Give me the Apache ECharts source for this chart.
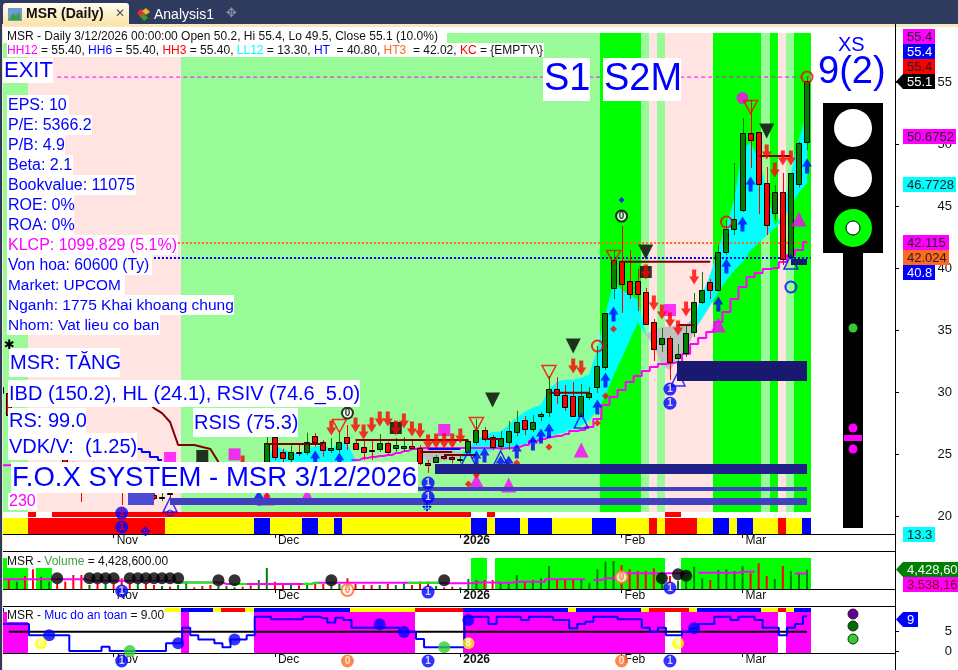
<!DOCTYPE html>
<html><head><meta charset="utf-8">
<style>html,body{margin:0;padding:0;background:#fff;overflow:hidden}#c{width:958px;height:670px}</style>
<script src="https://cdn.jsdelivr.net/npm/echarts@6/dist/echarts.min.js"></script>
</head><body><div id="c"></div>
<script>
// ---- data, bar index 0..100 ----
const candles=[ // open, close, low, high
[30.4,29.9,29.6,30.8],[29.92,28.15,27.9,30.4],[27.2,27.9,26.9,28.1],[27.8,26.9,26.5,28.2],[26.9,26.0,25.7,27.1],
[25.5,26.1,25.2,26.4],[25.4,25.9,25.1,26.2],[25.8,25.0,24.7,26.0],[25.0,24.2,23.9,25.2],[24.2,23.5,23.2,24.4],
[23.5,22.8,21.13,23.7],[22.7,23.0,22.4,23.3],[23.1,22.7,22.4,23.3],[22.6,23.0,22.4,23.2],[23.0,22.6,22.3,23.2],
[22.8,22.2,20.89,23.0],[22.4,22.1,22.0,22.6],[22.1,22.5,22.0,22.7],[21.69,21.37,21.2,22.1],[21.69,21.45,21.3,22.0],
[21.5,21.56,21.2,21.9],[21.87,21.83,21.2,22.3],[22.2,22.8,22.0,23.0],[22.8,23.2,22.6,23.4],[23.3,22.9,22.7,23.5],
[23.0,22.7,22.5,23.2],[22.8,22.4,22.2,23.0],[22.5,22.9,22.3,23.1],[22.9,23.3,22.7,23.5],[23.3,23.6,23.1,23.9],
[23.7,23.3,23.1,23.9],[23.4,23.0,22.8,23.6],[23.1,23.9,22.9,24.1],[24.35,25.91,24.1,26.37],[26.40,24.78,24.5,26.6],
[25.18,24.68,24.35,25.43],[24.57,25.13,24.35,25.70],[25.20,25.16,24.84,25.8],[25.13,25.94,24.92,26.72],[26.43,25.99,25.59,26.69],
[25.99,25.30,24.78,26.13],[25.30,25.46,25.08,26.29],[25.43,25.99,25.16,26.69],[26.35,25.91,25.32,27.34],[25.91,25.43,25.32,26.21],
[25.59,25.18,24.52,26.13],[25.32,25.29,24.52,26.13],[25.43,25.91,25.18,26.61],[25.91,25.13,24.92,25.99],[25.46,25.70,25.18,26.29],
[25.46,25.62,25.18,26.37],[25.62,25.51,25.32,26.13],[25.48,24.30,24.11,25.73],[24.30,24.11,23.49,24.52],[24.38,24.73,24.30,24.92],
[24.86,24.70,24.52,25.0],[24.78,24.57,24.25,25.0],[24.58,24.62,24.27,24.92],[25.18,26.05,25.08,26.1],[25.97,26.93,25.73,27.82],
[26.93,26.23,25.99,27.17],[26.35,25.59,25.32,26.53],[25.64,26.29,25.32,26.85],[25.97,26.85,25.32,27.66],[26.77,27.58,26.45,28.47],
[27.74,27.01,26.53,28.06],[27.01,27.58,26.77,28.14],[28.1,28.2,27.66,28.39],[28.39,30.22,27.98,31.29],[30.22,29.73,29.03,31.21],
[29.76,28.79,28.47,30.56],[29.65,28.06,27.98,30.81],[28.06,29.65,27.98,30.64],[29.60,29.89,29.35,30.40],[30.43,32.10,29.92,33.71],
[32.04,36.35,31.77,36.37],[38.41,40.65,37.50,41.45],[40.54,38.73,36.37,43.39],[38.93,37.93,37.50,41.45],[38.93,37.93,36.53,39.92],
[38.04,35.51,35.48,38.39],[35.62,33.49,32.50,35.89],[33.90,34.33,33.23,35.16],[34.33,32.44,30.97,34.52],[32.77,33.04,31.53,33.87],
[33.17,34.73,32.82,35.40],[34.81,37.23,34.44,37.98],[37.23,38.20,37.10,39.68],[38.85,38.20,37.50,39.11],[38.20,41.27,38.10,41.85],
[41.27,43.12,41.05,43.87],[43.17,43.93,42.66,48.47],[44.65,50.86,44.52,52.10],[50.86,50.35,48.07,53.55],[50.94,46.75,44.36,50.97],
[46.83,43.44,42.66,48.15],[44.41,46.10,43.87,46.69],[46.10,40.70,40.24,47.66],[40.91,47.64,40.40,47.66],[46.75,50.06,46.5,50.2],
[50.2,55.1,49.5,55.4]];
const volumes=[2.0,2.42,1.67,2.95,4.47,2.80,1.67,1.14,1.67,3.18,3.18,0.91,1.14,1.14,1.14,2.42,1.14,1.14,1.14,0.91,
0.68,0.53,0.91,1.67,0.38,0.68,0.91,0.68,0.68,0.38,0.53,0.83,2.05,4.77,1.67,1.29,0.91,0.83,1.44,1.14,
1.14,0.91,1.14,2.42,1.14,0.91,0.91,0.91,1.14,0.91,1.29,0.91,1.67,1.67,0.68,0.38,0.53,0.38,2.27,2.05,
2.05,2.05,1.44,1.44,3.18,1.67,2.05,2.42,5.23,2.2,2.2,2.2,2.2,1.44,4.47,6.21,6.36,5.45,4.47,4.09,
4.09,4.70,1.44,2.95,1.89,1.67,5.08,2.42,2.05,4.32,4.47,4.09,5.23,3.56,5.83,2.95,2.27,5.23,4.09,3.71,4.43];
const _=null;
const volumeMA=[2.2,2.2,2.2,2.2,2.2,2.2,2.2,2.2,2.2,2.2,2.2,1.9,1.9,1.9,1.9,1.9,1.9,1.9,1.9,1.9,1.9,1.9,
1.5,1.5,1.5,1.5,1.5,1.5,1.14,1.14,1.14,1.14,1.14,1.14,1.14,1.14,1.14,1.14,1.14,1.44,1.44,1.44,1.44,1.44,1.44,1.44,
1.44,1.44,1.44,1.44,1.44,1.44,1.44,1.44,1.44,1.29,1.29,1.29,1.29,1.5,1.5,1.5,1.44,1.44,1.67,1.67,1.67,1.67,
2.2,2.2,2.2,2.2,2.2,_,2.05,2.42,2.42,3.56,3.56,3.56,3.56,3.56,3.56,3.56,3.56,3.56,_,3.71,3.71,3.71,3.71,3.71,3.94,3.94,_,_,_,_,_,3.54,3.54];
const volumeFastRuns=[[22,26],[29,30],[38,39],[51,54]];
const volumeDots=[[7,2.42],[11,2.42],[12,2.42],[13,2.42],[14,2.42],[16,2.42],[17,2.42],[18,2.42],[19,2.42],[20,2.42],[21,2.42],[22,2.42],[27,1.97],[29,1.97],[41,1.97],[55,1.97],[82,2.42],[84,3.33],[85,3.03]];
const safety=[7,7,7,7,4.1,4.1,4.1,4.1,4.1,0,0,0,0,1.1,0,0,0,0,0,0,0,2,2,6,4.1,3,3,2,1,3,3,4.1,8.9,8.9,8.2,8.2,8.2,8.2,8.9,8.9,
8.5,7.4,8.6,8,6,6,6,6,6,6,5,5,3.1,1,1,1,1,1,8.9,8.9,8.9,7,8.9,8.9,8.9,8,8.9,8.9,8.9,8,8,5.9,7,7.6,8.9,8.9,8.9,8.2,8.2,8.2,
6,5,6,4.1,4.1,5,5.9,7,7,8.9,8.9,8,8.9,8.9,8,6,6,4.1,6,7,9];
const lowLine=[24.1,24.1,_,_,_,_,_,_,_,_,_,_,_,_,_,_,_,_,_,_,_,_,_,_,_,_,_,_,_,_,_,_,_,_,_,_,_,_,_,_,_,_,_,_,
24.52,24.68,24.76,24.84,24.92,25.08,25.24,25.40,25.48,25.48,25.48,25.48,25.48,25.48,25.48,25.48,25.48,25.48,25.44,25.48,
25.59,25.73,26.05,26.21,26.37,26.45,26.61,26.85,26.93,27.18,27.82,28.95,29.59,30.16,30.81,31.29,31.69,32.02,32.26,32.34,32.42,
33.07,33.87,34.35,34.84,35.64,36.45,37.50,38.47,39.27,39.6,39.92,40.0,40.48,41.05,41.45,42.1];
const blueStep=[[17,25.4],[18,25.16],[19,24.76],[20,24.52]];
const blueLevel=[[53,57,25.4]];
const descent=[[18,29.35],[19,28.7],[20,28.3],[21,27.58],[22,25.73],[23,25.73],[24,25.73],[25,25.56],[26,25.40],[27,24.35]];
const resistance=[[33,40,25.81],[44,58,26.13],[52,56,25.16],[55,59,24.92],[60,62,26.21],[68,73,29.94],[77,88,40.51],[84,86,35.40],[94,98,49.03]];
const cloudA={start:32,top:[23.71,24.35,25.73,25.32,25.16,24.92,25.48,25.56,25.73,25.32,25.97,25.73,24.52],bot:[23.71,23.71,23.71,23.71,23.71,23.71,23.71,23.71,23.71,23.71,23.71,23.71,24.35]};
const cloudB={start:57,top:[24.92,25.48,26.13,26.45,26.77,26.77,27.34,27.90,28.39,28.71,28.95,30.16,30.81,30.97,30.97,31.13,31.37,33.39,36.21,38.79,38.23,37.82,37.42,34.6],
bot:[24.68,24.84,25.0,25.16,25.32,25.48,25.56,25.64,25.80,26.05,26.29,26.45,26.61,26.77,27.1,27.34,27.74,28.55,29.76,31.37,32.74,34.19,35.64,34.6]};
const cloudE={start:85,top:[35.40,35.97,37.82,39.44,41.45,43.47,45.48,49.52,50.08,48.71,46.29,43.39,44.27,47.50,50.32,52.5],
bot:[34.6,35.0,35.97,37.02,38.06,39.03,39.84,40.48,41.45,42.02,42.66,43.22,43.87,45.08,46.13,46.85]};
const silverC={start:52,top:[25.56,25.48,25.40,25.32,25.24,25.16],bot:[25.16,24.35,24.35,24.43,24.60,24.68]};
const silverD={start:80,top:[34.6,34.99,35.24,35.24,35.40,35.40,35.81],bot:[34.6,33.79,32.18,31.77,32.74,33.39,34.84]};
const mainBandRuns=[[0,3,'P'],[4,22,'M'],[23,74,'P'],[75,79,'L'],[80,80,'P'],[81,81,'M'],[82,82,'P'],[83,88,'M'],[89,94,'L'],[95,95,'P'],[96,96,'L'],[97,97,'M'],[98,98,'P'],[99,100,'L']];
const ribbonLowRuns=[[0,3,'Y'],[4,20,'R'],[21,31,'Y'],[32,33,'B'],[34,37,'Y'],[38,39,'B'],[40,41,'Y'],[42,42,'B'],[43,58,'Y'],[59,60,'B'],[61,61,'Y'],[62,64,'B'],[65,65,'Y'],[66,68,'B'],[69,73,'Y'],[74,76,'B'],[77,80,'Y'],[81,81,'R'],[82,82,'Y'],[83,86,'R'],[87,88,'Y'],[89,90,'B'],[91,91,'Y'],[92,93,'B'],[94,96,'Y'],[97,97,'R'],[98,99,'Y'],[100,100,'B']];
const ribbonHighRuns=[[4,4,'R'],[7,58,'R'],[61,61,'R'],[83,84,'R']];
const volumeBandRuns=[[0,3,'L'],[5,6,'L'],[59,60,'L'],[62,82,'L'],[85,100,'L']];
const safetyBandRuns=[[0,3,'G'],[23,23,'G'],[32,51,'G'],[58,82,'G'],[85,96,'G'],[98,100,'G']];
const safetyStripRuns=[[0,0,'B'],[21,22,'Y'],[23,26,'B'],[27,27,'Y'],[28,30,'R'],[31,31,'Y'],[32,43,'B'],[44,51,'Y'],[52,57,'R'],[58,70,'B'],[71,71,'Y'],[72,79,'B'],[80,80,'Y'],[81,85,'R'],[86,86,'Y'],[87,94,'B'],[95,96,'Y'],[97,97,'R'],[98,98,'Y'],[99,100,'B']];
const zones=[[83.9,100,32.5,30.89],[53.9,100,24.19,23.39],[51.75,100,22.34,22.02],[21,100,21.45,20.89],[15.8,19,21.85,20.89],[98,100,40.73,40.24]];
const zoneKeys=['N1','N2','N3','N3','N4','N1'];
const arrowsUp=[[90,40.16],[89,37.1],[93,46.77],[92,43.55],[100,48.23],[76,36.29],[75,30.97],[74,28.79],[68,26.87],[67,26.45],[66,25.89],[60,24.92],[64,25.24],[59,24.68],[62,24.27],[63,24.27],[39,24.68],[42,24.52],[32,21.45]];
const arrowsDown=[[95,49.35],[97,48.87],[98,48.87],[96,47.90],[80,39.68],[86,39.27],[85,36.69],[81,37.18],[82,36.45],[83,35.81],[84,35.16],[71,32.10],[72,31.94],[41,27.1],[44,27.34],[45,26.77],[46,27.34],[47,27.82],[48,27.82],[49,27.1],[50,27.66],[51,27.02],[52,26.87],[53,25.97],[54,26.05],[55,26.05],[56,26.05],[57,26.45],[30,24.27]];
const magentaTriangles=[[89,35.40],[99,43.95],[72,25.32],[63,22.50],[59,22.82],[38,21.61],[33,21.45]];
const blackTriangles=[[95,51.05],[80,41.29],[71,33.71],[61,29.35],[40,29.5]];
const redOutlineTriangles=[[93,52.98],[76,40.89],[68,31.61],[59,27.42],[42,27.26]];
const blueOutlineTriangles=[[72,27.66],[84,31.05],[98,40.48],[62,24.68],[58,24.68],[21,20.89]];
const redRings=[[100,55.4],[90,43.71],[74,33.71]];
const blueRings=[[98,38.47]];
const blueSmallRings=[[21,20.24]];
const redDiamonds=[[76,35.08],[75,29.68],[74,27.50],[68,25.56],[59,23.31],[58,22.58],[64,24.27],[33,21.61]];
const blueDiamonds=[[77,45.48]];
const magentaSquares=[[83,36.61],[55,26.94],[29,24.97],[21,24.68]];
const blackSquares=[[49,27.1],[80,39.68],[25,24.84]];
const magentaDots=[[92,53.71]];
const zeroMarks=[[77,44.19],[43,28.31]];
const oneMarks=[[83,30.24],[83,29.1],[53,22.66],[53,21.53]];
const oneRedMarks=[[15,20.24],[15,19.11]];
const vOneMarks=[[15,-0.45],[53,-0.7],[83,0.23]];
const vZeroMarks=[[43,-0.23],[77,2.73]];
const sOneMarks=[[15,-2.6],[53,-2.6],[83,-2.6]];
const sZeroMarks=[[43,-2.6],[77,-2.6]];
const safetyBlueDots=[[6,4.1],[22,2],[29,3],[47,6.9],[50,4.9],[58,8],[86,5.9]];
const safetyGreenDots=[[16,0],[55,1]];
const safetyEights=[[5,2],[58,2],[84,2]];
const tickBars=[14,34,57,77,92];
const tickLabels=['Nov','Dec','2026','Feb','Mar'];
const priceTicks=[20,25,30,35,40,45,50,55];
const safetyTicks=[0,5];
const statLines=['EPS: 10','P/E: 5366.2','P/B: 4.9','Beta: 2.1','Bookvalue: 11075','ROE: 0%','ROA: 0%','KLCP: 1099.829 (5.1%)','Von hoa: 60600 (Ty)','Market: UPCOM','Nganh: 1775 Khai khoang chung','Nhom: Vat lieu co ban'];

// ---- styling and layout ----
const FF='"Liberation Sans",Arial,sans-serif';
const C={P:'#98FB98',M:'#FFE4E1',L:'#00FF00',Y:'#FFFF00',R:'#FF0000',B:'#0000FF',G:'#FF00FF',N1:'#191970',N2:'#20208a',N3:'#4040c0',N4:'#4b4bd6'};
const XMIN=0.279,XMAX=110.91;
const grids=[{left:3,width:892,top:24,height:510},{left:3,width:892,top:551,height:38},{left:3,width:892,top:606,height:47},{left:3,width:892,top:512,height:22}];
function xAx(i,show){return {gridIndex:i,type:'value',min:XMIN,max:XMAX,splitLine:{show:false},
 axisLine:{show:show,onZero:false,lineStyle:{color:'#000',width:1}},
 axisTick:{show:show,customValues:tickBars,length:4,lineStyle:{color:'#000'}},
 axisLabel:{show:show,customValues:tickBars,align:'left',margin:1,padding:[0,0,0,3],color:'#111',fontFamily:FF,fontSize:12,
  formatter:v=>{const k=tickBars.indexOf(v),t=tickLabels[k];return t==='2026'?'{b|'+t+'}':t;},
  rich:{b:{fontWeight:'bold',fontFamily:FF,fontSize:12,color:'#111'}}}};}
function yAx(i,min,max,ticks){const has=!!ticks;return {gridIndex:i,type:'value',position:'right',min,max,splitLine:{show:false},axisLine:{show:false},
 axisTick:has?{show:true,customValues:ticks,length:4,lineStyle:{color:'#000'}}:{show:false},
 axisLabel:has?{show:true,customValues:ticks,align:'right',margin:57,color:'#111',fontFamily:FF,fontSize:13}:{show:false}};}
function base(g,z){return {xAxisIndex:g,yAxisIndex:g,z,silent:true,animation:false};}
function rectsSeries(g,z,items,colorOf){return Object.assign(base(g,z),{type:'custom',clip:true,data:items,encode:{x:[0,1],y:[2,3]},
 renderItem(p,api){const a=api.coord([api.value(0),api.value(2)]),b=api.coord([api.value(1),api.value(3)]);
  const x=Math.round(a[0]),y=Math.round(a[1]);return {type:'rect',shape:{x,y,width:Math.round(b[0])-x,height:Math.round(b[1])-y},style:{fill:colorOf(p.dataIndex)}};}});}
function runSeries(g,z,runs,hi,lo){return rectsSeries(g,z,runs.map(r=>[r[0]-0.65,r[1]===100?100.5:r[1]+0.35,hi,lo]),i=>C[runs[i][2]]);}
function cloudSeries(c,color,z){const data=c.top.map((t,i)=>[c.start+i,t,c.bot[i]]);
 return Object.assign(base(0,z),{type:'custom',clip:true,data,encode:{x:0,y:[1,2]},renderItem(p,api){
  const i=p.dataIndex;if(i>=data.length-1)return null;const d=data[i],n=data[i+1];
  return {type:'polygon',shape:{points:[api.coord([d[0],d[1]]),api.coord([n[0],n[1]]),api.coord([n[0],n[2]]),api.coord([d[0],d[2]])]},style:{fill:color,stroke:color,lineWidth:0.5}};}});}
function lineSeries(g,z,data,color,width,extra){return Object.assign(base(g,z),{type:'line',data,symbol:'none',showSymbol:false,connectNulls:false,lineStyle:{color,width,cap:'butt'}},extra||{});}
function hLine(p,from,color,dash){return lineSeries(0,4,[[from,p],[100.45,p]],color,dash[2]||1,{lineStyle:{color,width:dash[2]||1,type:[dash[0],dash[1]]}});}
function pick(arr){return arr.map((v,i)=>[i,v==null?'-':v]);}
function mark(g,z,data,symbol,size,itemStyle,extra){return Object.assign(base(g,z),{type:'scatter',clip:false,data,symbol,symbolSize:size,itemStyle},extra||{});}
function txtLabel(t,col,fs){return {show:true,position:'inside',formatter:t,color:col,fontFamily:FF,fontWeight:'bold',fontSize:fs||10};}
const UP='path://M5 0L10 8L7 8L7 15L3 15L3 8L0 8Z',DOWN='path://M3 0L7 0L7 7L10 7L5 15L0 7L3 7Z';

const candleSeries=Object.assign(base(0,6),{type:'custom',clip:true,data:candles.map((c,i)=>[i,c[0],c[1],c[2],c[3]]),encode:{x:0,y:[1,2,3,4]},
 renderItem(p,api){const j=api.value(0),o=api.value(1),c=api.value(2),l=api.value(3),h=api.value(4);const up=c>=o;
  const x=Math.round(api.coord([j,o])[0]);const yo=api.coord([j,o])[1],yc=api.coord([j,c])[1],yl=api.coord([j,l])[1],yh=api.coord([j,h])[1];
  const top=Math.round(Math.min(yo,yc)),bot=Math.round(Math.max(yo,yc));
  const col=up?'#008000':'#FF0000';
  return {type:'group',children:[
   {type:'line',shape:{x1:x+0.5,y1:yh,x2:x+0.5,y2:yl},style:{stroke:col,lineWidth:1}},
   {type:'rect',shape:{x:x-2.5,y:top+0.5,width:5,height:Math.max(bot-top,1)},style:{fill:col,stroke:'#000',lineWidth:1}}]};}});
const resistanceSeries=Object.assign(base(0,7),{type:'custom',clip:true,data:resistance,encode:{x:[0,1],y:2},renderItem(p,api){
 const a=api.coord([api.value(0),api.value(2)]),b=api.coord([api.value(1),api.value(2)]);
 return {type:'line',shape:{x1:a[0],y1:a[1],x2:b[0],y2:b[1]},style:{stroke:'#800000',lineWidth:2}};}});
const volumeFast=volumeMA.map((v,i)=>volumeFastRuns.some(r=>i>=r[0]&&i<=r[1])?v:null);

const series=[
 runSeries(0,1,mainBandRuns,58.95,20.3),
 cloudSeries(cloudA,'#00FFFF',2),cloudSeries(cloudB,'#00FFFF',2),cloudSeries(cloudE,'#00FFFF',2),cloudSeries(silverC,'#C0C0C0',2),cloudSeries(silverD,'#C0C0C0',2),
 hLine(55.4,7,'#FF00FF',[4,3,1]),hLine(42.02,22,'#FF6A22',[2,2,2]),hLine(40.8,19,'#0000FF',[2,2,2]),
 lineSeries(0,5,pick(lowLine),'#FF00FF',2,{step:'middle'}),
 lineSeries(0,7,descent,'#800000',2),
 lineSeries(0,7,blueStep,'#0000FF',2,{step:'middle'}),
 Object.assign(base(0,7),{type:'custom',clip:true,data:blueLevel,encode:{x:[0,1],y:2},renderItem(p,api){const a=api.coord([api.value(0),api.value(2)]),b=api.coord([api.value(1),api.value(2)]);return {type:'line',shape:{x1:a[0],y1:a[1],x2:b[0],y2:b[1]},style:{stroke:'#0000FF',lineWidth:2}};}}),
 candleSeries,resistanceSeries,
 mark(0,8,magentaSquares,'rect',12,{color:'#FF00FF'}),
 mark(0,8,blackSquares,'rect',12,{color:'#000'}),
 mark(0,9,magentaDots,'circle',12,{color:'#FF00FF'}),
 mark(0,9,magentaTriangles,'triangle',[15,15],{color:'#FF00FF'}),
 mark(0,10,blackTriangles,'triangle',[15,15],{color:'#000'},{symbolRotate:180}),
 mark(0,10,redOutlineTriangles,'triangle',[14,13],{color:'transparent',borderColor:'#FF0000',borderWidth:1.5},{symbolRotate:180}),
 mark(0,10,blueOutlineTriangles,'triangle',[14,14],{color:'transparent',borderColor:'#0000FF',borderWidth:1.5}),
 mark(0,11,arrowsUp,UP,[10,15],{color:'#0000FF'}),
 mark(0,11,arrowsDown,DOWN,[10,15],{color:'#FF0000'}),
 mark(0,11,redDiamonds,'diamond',7,{color:'#FF0000'}),
 mark(0,11,blueDiamonds,'diamond',6,{color:'#0000FF'}),
 mark(0,11,redRings,'circle',11,{color:'transparent',borderColor:'#FF0000',borderWidth:2}),
 mark(0,11,blueRings,'circle',11,{color:'transparent',borderColor:'#0000FF',borderWidth:2}),
 mark(0,11,blueSmallRings,'circle',6,{color:'transparent',borderColor:'#0000FF',borderWidth:1}),
 rectsSeries(0,12,zones,i=>C[zoneKeys[i]]),
 mark(0,13,zeroMarks,'circle',11,{color:'#fff',borderColor:'#000',borderWidth:2},{label:txtLabel('0','#000')}),
 mark(0,13,oneMarks,'circle',13,{color:'#0000FF'},{label:txtLabel('1','#fff')}),
 // ribbon under the price pane
 runSeries(3,3,ribbonLowRuns,0.73,0),
 runSeries(3,3,ribbonHighRuns,1,0.77),
 mark(0,13,oneRedMarks,'circle',13,{color:'#0000FF'},{label:txtLabel('1','#FF0000')}),
 // volume pane
 runSeries(1,1,volumeBandRuns,7.05,0),
 Object.assign(base(1,3),{type:'bar',barWidth:2,data:volumes.map((v,i)=>[i,v]),itemStyle:{color:p=>candles[p.dataIndex][1]>=candles[p.dataIndex][0]?'#008000':'#FF0000'}}),
 lineSeries(1,4,pick(volumeMA),'#FF00FF',2,{step:'middle'}),
 lineSeries(1,4,pick(volumeFast),'#00FF00',2,{step:'middle'}),
 mark(1,5,volumeDots,'circle',12,{color:'#000'}),
 mark(1,6,vOneMarks,'circle',13,{color:'#0000FF'},{label:txtLabel('1','#fff')}),
 mark(1,6,vZeroMarks,'circle',12,{color:'#fff',borderColor:'#FF6A22',borderWidth:2},{label:txtLabel('0','#FF6A22')}),
 // safety pane
 runSeries(2,1,safetyBandRuns,10.1,-0.52),
 runSeries(2,1,safetyStripRuns,11.14,10.1),
 lineSeries(2,3,[[1,5],[100,5]],'#000',2),
 lineSeries(2,4,safety.map((v,i)=>[i,v]),'#0000FF',2,{step:'middle'}),
 mark(2,5,safetyBlueDots,'circle',12,{color:'#0000FF'}),
 mark(2,5,safetyGreenDots,'circle',12,{color:'#32CD32'}),
 mark(2,6,safetyEights,'circle',12,{color:'#FFFF00'},{label:txtLabel('8','#fff')}),
 mark(2,6,sOneMarks,'circle',13,{color:'#0000FF'},{label:txtLabel('1','#fff')}),
 mark(2,6,sZeroMarks,'circle',13,{color:'#FF6A22'},{label:txtLabel('0','#fff')})
];

// ---- overlays ----
const g=[];const Z=100;
function rect(x,y,w,h,fill,z){g.push({type:'rect',z:z||Z,silent:true,shape:{x,y,width:w,height:h},style:{fill}});}
function text(x,y,t,font,fill,opt){g.push({type:'text',z:(opt&&opt.z)||Z+1,silent:true,x,y,style:Object.assign({text:t,font,fill,verticalAlign:'middle',align:'left'},opt&&opt.style)});}
function circle(cx,cy,r,fill,stroke){g.push({type:'circle',z:Z,silent:true,shape:{cx,cy,r},style:{fill,stroke:stroke||null,lineWidth:1}});}
function poly(points,fill){g.push({type:'polygon',z:Z,silent:true,shape:{points},style:{fill}});}
function line(x1,y1,x2,y2,stroke){g.push({type:'line',z:Z,silent:true,shape:{x1,y1,x2,y2},style:{stroke,lineWidth:1}});}
function tbox(x,y,w,h,t,size,color){rect(x,y,w,h,'#fff');text(x+1,y+h/2+0.5,t,size+'px '+FF,color||'#0000FF');}
// window chrome
rect(0,0,958,24,'#2e3b5e');rect(0,24,958,3,'#F6E7BC');rect(0,24,2,646,'#2e3b5e');rect(2,24,1,646,'#F6E7BC');
g.push({type:'rect',z:Z,silent:true,shape:{x:3,y:3,width:126,height:22,r:[3,3,0,0]},style:{fill:{type:'linear',x:0,y:0,x2:0,y2:1,colorStops:[{offset:0,color:'#FFFDF3'},{offset:1,color:'#FBE3A6'}]}}});
rect(8,8,14,13,'#6d9bd6');poly([[9,20],[13,13],[16,16],[19,12],[21,20]],'#3f9f3f');
text(26,14.5,'MSR (Daily)','bold 14px '+FF,'#111');
text(115,13.5,'✕','12px "DejaVu Sans"','#555');
poly([[137,13],[141,9],[145,13],[141,18]],'#e03030');poly([[142,11],[146,8],[150,12],[146,15]],'#f0b020');poly([[140,16],[144,14],[148,18],[144,21]],'#30a030');
text(154,15,'Analysis1','14px '+FF,'#fff');
text(226,14,'✥','13px "DejaVu Sans"','#8892a8');
// title lines
rect(3,29,444,14,'#fff');rect(7,43,537,14,'#fff');
text(7,36.5,'MSR - Daily 3/12/2026 00:00:00 Open 50.2, Hi 55.4, Lo 49.5, Close 55.1 (10.0%)','12px '+FF,'#111');
const rs={m:{fill:'#FF00FF',font:'12px '+FF},b:{fill:'#0000FF',font:'12px '+FF},r:{fill:'#FF0000',font:'12px '+FF},c:{fill:'#00FFFF',font:'12px '+FF},o:{fill:'#FF6A22',font:'12px '+FF},k:{fill:'#111',font:'12px '+FF}};
text(7,50.5,'{m|HH12}{k| = 55.40, }{b|HH6}{k| = 55.40, }{r|HH3}{k| = 55.40, }{c|LL12}{k| = 13.30, }{b|HT }{k| = 40.80, }{o|HT3 }{k| = 42.02, }{r|KC}{k| = {EMPTY\\}}','12px '+FF,'#111',{style:{rich:rs}});
tbox(3,58,50,25,'EXIT',22);
const statY=[95,115,135,155,175,195,215,235,255,275,295,315];
const statW=[62,85,58,66,129,67,67,171,145,118,227,153];
const statSize=[16,16,16,16,16,16,16,16,15.7,15.4,15.5,15.5];
statLines.forEach((s,i)=>tbox(7,statY[i],statW[i],20,s,statSize[i],s.startsWith('KLCP')?'#FF00FF':'#0000FF'));
tbox(543,58,47,43,'S1',38);tbox(603,58,78,43,'S2M',38);
tbox(9,348,111,29,'MSR: TĂNG',20);
tbox(8,380,352,27,'IBD (150.2), HL (24.1), RSIV (74.6_5.0)',20);
tbox(8,408,78,25,'RS: 99.0',20);
tbox(8,433,129,27,'VDK/V:  (1.25)',20);
tbox(193,408,105,29,'RSIS (75.3)',20);
tbox(11,462,407,31,'F.O.X SYSTEM - MSR 3/12/2026',27.5);
tbox(8,493,29,17,'230',16,'#FF00FF');
// pane captions
rect(7,555,164,13,'#fff');
text(7,561.5,'{k|MSR - }{g|Volume}{k| = 4,428,600.00}','12px '+FF,'#111',{style:{rich:{k:rs.k,g:{fill:'#3f9f3f',font:'12px '+FF}}}});
rect(7,608,156,14,'#fff');
text(7,615.5,'{k|MSR - }{b|Muc do an toan}{k| = 9.00}','12px '+FF,'#111',{style:{rich:{k:rs.k,b:rs.b}}});
// separators
line(3,551.5,895,551.5,'#000');line(3,606.5,895,606.5,'#000');line(895.5,24,895.5,670,'#000');
text(4,346,'✱','13px "DejaVu Sans"','#000');
text(422,508,'❉','12px "DejaVu Sans"','#0000FF');
text(140,533,'✥','13px "DejaVu Sans"','#0000FF');
// signal post
text(838,45.5,'XS','20px '+FF,'#0000FF');
text(818,73,'9(2)','38px '+FF,'#0000FF');
rect(823,103,60,150,'#000');rect(843,253,20,275,'#000');
circle(853,128,19,'#fff');circle(853,178,19,'#fff');circle(853,228,19,'#00FF00');circle(853,228,7,'#fff','#000');
circle(853,328,4.5,'#32CD32');circle(853,428,4.5,'#FF00FF');rect(844,435,18,6,'#FF00FF');circle(853,449,4.5,'#FF00FF');
circle(853,614,5,'#660099','#222');circle(853,626,5,'#006F00','#222');circle(853,639,5,'#32CD32','#222');
// price tags
function tag(x,y,w,h,t,fill,col,arrow){rect(x,y,w,h,fill);if(arrow)poly([[896,y+h/2],[x,y],[x,y+h]],fill);text(x+4,y+h/2+0.5,t,'13px '+FF,col);}
tag(903,29,32,15,'55.4','#FF00FF','#222');tag(903,44,32,15,'55.4','#0000FF','#fff');tag(903,59,32,15,'55.4','#FF0000','#222');
tag(903,74,32,15,'55.1','#000','#fff',true);
tag(903,129,53,15,'50.6752','#FF00FF','#222');tag(903,177,53,15,'46.7728','#00FFFF','#222');
tag(903,235,46,15,'42.115','#FF00FF','#222');tag(903,250,46,15,'42.024','#FF6A22','#222');tag(903,265,32,15,'40.8','#0000FF','#fff');
tag(903,527,32,15,'13.3','#00FFFF','#222');
tag(903,562,55,15,'4,428,600','#008000','#fff',true);tag(903,577,55,15,'3,538,165','#FF00FF','#800000');
tag(903,612,15,15,'9','#0000FF','#fff',true);

echarts.init(document.getElementById('c'),null,{renderer:'canvas'}).setOption({
 animation:false,backgroundColor:'#fff',grid:grids,
 xAxis:[xAx(0,true),xAx(1,true),xAx(2,true),xAx(3,false)],
 yAxis:[yAx(0,18.55,59.68,priceTicks),yAx(1,0,8.64,null),yAx(2,-0.52,11.66,safetyTicks),{gridIndex:3,type:'value',min:0,max:1,show:false}],
 series,graphic:{elements:g}
});
</script></body></html>
